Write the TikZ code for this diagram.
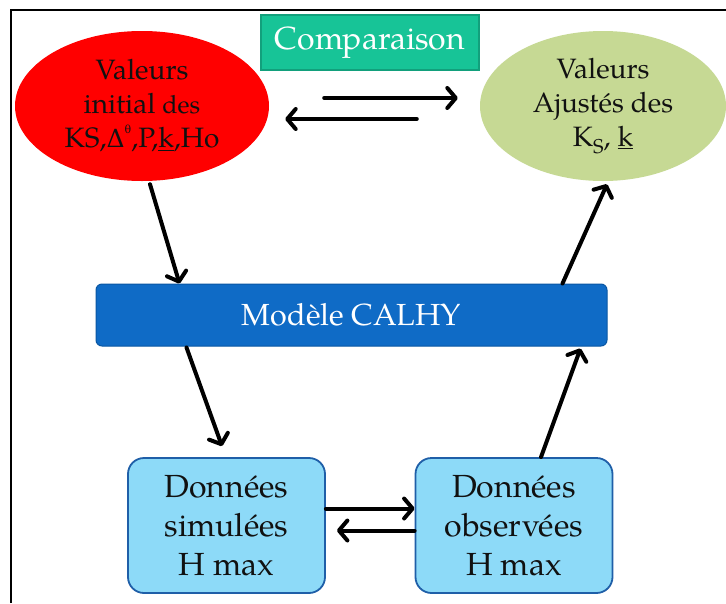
\documentclass[tikz,border=0pt]{standalone}
\usepackage{fontspec}
\setmainfont{TeX Gyre Pagella}
\newfontfamily\grkfont{DejaVu Serif}
\usetikzlibrary{shapes.geometric,arrows.meta,calc}
\definecolor{redfill}{HTML}{FF0000}
\definecolor{greenfill}{HTML}{C6D994}
\definecolor{tealfill}{HTML}{17C497}
\definecolor{tealline}{HTML}{12A07C}
\definecolor{bluefill}{HTML}{0F6BC6}
\definecolor{blueline}{HTML}{0A57A3}
\definecolor{lightfill}{HTML}{8DDAF8}
\definecolor{lightline}{HTML}{1F5FA8}
\definecolor{txt}{HTML}{111111}
\tikzset{
  ellnode/.style={ellipse, inner sep=0pt, minimum height=150pt, align=center, text=txt,
    font=\fontsize{28}{34}\selectfont},
  databox/.style={rectangle, rounded corners=16pt, fill=lightfill, draw=lightline, line width=1.8pt,
    minimum width=197pt, minimum height=135pt, align=center, text=txt,
    font=\fontsize{32}{39}\selectfont},
  arr/.style={line width=4pt, line cap=round, line join=round,
    -{Straight Barb[length=8.5pt,width=20pt,round]}},
}
\begin{document}
\begin{tikzpicture}[x=1pt,y=-1pt]
\useasboundingbox[fill=white] (0,0) rectangle (726,603);
% frame
\draw[line width=2.5pt] (11,603) -- (11,10) -- (726,10);
% nodes
\node[ellnode, fill=redfill, minimum width=254pt] (red) at (142,106)
  {Valeurs\\initial {\fontsize{25}{34}\selectfont des}\\KS,{\grkfont\fontsize{25}{34}\selectfont Δ}\raisebox{0.5em}{\grkfont\fontsize{11}{11}\selectfont θ},P,\underline{k},Ho};
\node[ellnode, fill=greenfill, minimum width=246pt] (green) at (603,106)
  {Valeurs\\Ajustés des\\K\raisebox{-0.22em}{\fontsize{20}{20}\selectfont S}, \underline{k}};
\node[rectangle, fill=tealfill, draw=tealline, line width=1.5pt, minimum width=218pt, minimum height=55pt,
  text=white, font=\fontsize{32}{40}\selectfont] (comp) at (370,42.5) {Comparaison};
\node[rectangle, rounded corners=6pt, fill=bluefill, draw=blueline, line width=1pt,
  minimum width=511pt, minimum height=62pt, text=white, font=\fontsize{30.5}{36}\selectfont]
  (calhy) at (351.5,315) {Modèle CALHY};
\node[databox] (sim) at (226.5,525.5) {Données\\simulées\\H max};
\node[databox] (obs) at (514,525.5) {Données\\observées\\H max};
% connectors
\draw[arr] ([xshift=55pt,yshift=8pt]red.east) -- ([xshift=-22pt,yshift=8pt]green.west);
\draw[arr] ([xshift=-63pt,yshift=-13pt]green.west) -- ([xshift=16pt,yshift=-13pt]red.east);
\draw[arr] ([xshift=8pt,yshift=-3pt]red.south) -- ([xshift=84pt]calhy.north west);
\draw[arr] ([xshift=91pt,yshift=-1pt]calhy.south west) -- ([xshift=-4.5pt,yshift=11pt]sim.north);
\draw[arr] ([xshift=27pt]obs.north) -- ([xshift=-27pt,yshift=-2pt]calhy.south east);
\draw[arr] ([xshift=-45pt]calhy.north east) -- ([xshift=4pt,yshift=-3pt]green.south);
\draw[arr] ([yshift=17pt]sim.east) -- ([yshift=17pt]obs.west);
\draw[arr] ([yshift=-5pt]obs.west) -- ([xshift=11pt,yshift=-5pt]sim.east);
\end{tikzpicture}
\end{document}
